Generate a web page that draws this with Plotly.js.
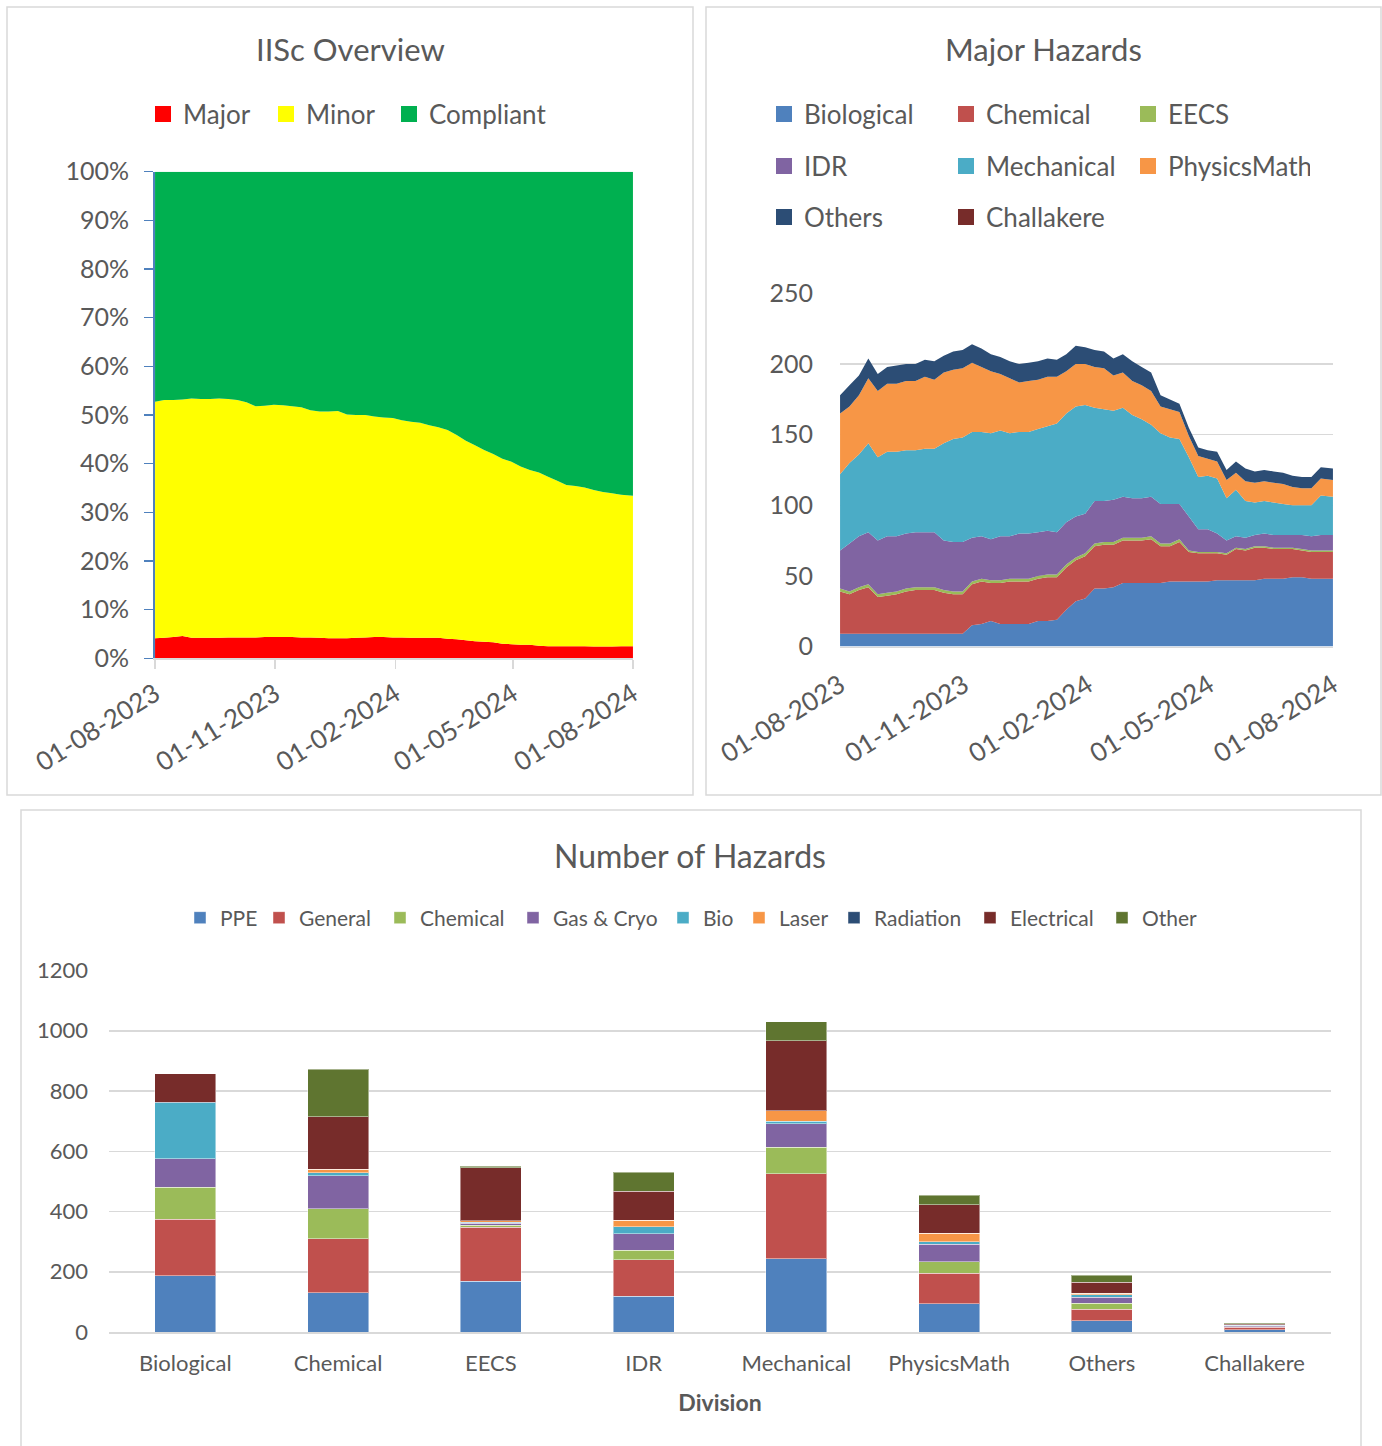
<!DOCTYPE html>
<html><head><meta charset="utf-8">
<script src="https://cdn.plot.ly/plotly-3.0.1.min.js"></script>
<style>html,body{margin:0;padding:0;background:#fff;} #chart{width:1382px;height:1446px;}</style>
</head><body><div id="chart"></div>
<script>
// ---------- DATA ----------
const weeks = ['2023-08-01','2023-08-08','2023-08-15','2023-08-22','2023-08-29','2023-09-05','2023-09-12','2023-09-19','2023-09-26',
'2023-10-03','2023-10-10','2023-10-17','2023-10-24','2023-10-31','2023-11-07','2023-11-14','2023-11-21','2023-11-28',
'2023-12-05','2023-12-12','2023-12-19','2023-12-26','2024-01-02','2024-01-09','2024-01-16','2024-01-23','2024-01-30',
'2024-02-06','2024-02-13','2024-02-20','2024-02-27','2024-03-05','2024-03-12','2024-03-19','2024-03-26',
'2024-04-02','2024-04-09','2024-04-16','2024-04-23','2024-04-30','2024-05-07','2024-05-14','2024-05-21','2024-05-28',
'2024-06-04','2024-06-11','2024-06-18','2024-06-25','2024-07-02','2024-07-09','2024-07-16','2024-07-23','2024-08-01'];

// IISc Overview (percent)
const majorPct = [4.1,4.2,4.4,4.6,4.2,4.2,4.2,4.2,4.3,4.3,4.3,4.3,4.4,4.4,4.4,4.4,4.3,4.3,4.2,4.1,4.1,4.1,4.2,4.3,4.4,4.4,4.3,
4.3,4.2,4.2,4.2,4.2,4.0,3.9,3.7,3.5,3.4,3.3,3.0,2.9,2.8,2.8,2.6,2.5,2.5,2.5,2.5,2.5,2.4,2.4,2.4,2.5,2.5];
const minorPct = [48.6,48.9,48.7,48.6,49.2,49.1,49.1,49.2,49.0,48.8,48.3,47.5,47.5,47.7,47.6,47.4,47.3,46.7,46.5,46.6,46.7,46.0,45.8,45.7,45.3,45.1,45.1,
44.6,44.4,44.2,43.7,43.3,42.9,42.0,41.0,40.3,39.4,38.7,38.0,37.5,36.6,35.9,35.6,34.8,34.0,33.1,32.9,32.6,32.2,31.8,31.5,31.1,30.9];
const compliantPct = [47.3,46.9,46.9,46.8,46.6,46.7,46.7,46.6,46.7,46.9,47.4,48.2,48.1,47.9,48.0,48.2,48.4,49.0,49.3,49.3,49.2,49.9,50.0,50.0,50.3,50.5,50.6,
51.1,51.4,51.6,52.1,52.5,53.1,54.1,55.3,56.2,57.2,58.0,59.0,59.6,60.6,61.3,61.8,62.7,63.5,64.4,64.6,64.9,65.4,65.8,66.1,66.4,66.6];
const pctTicks = [0,10,20,30,40,50,60,70,80,90,100];
const pctTickText = ['0%','10%','20%','30%','40%','50%','60%','70%','80%','90%','100%'];

// Major Hazards (counts)
const majBiological = [9,9,9,9,9,9,9,9,9,9,9,9,9,9,15,16,18,16,16,16,16,18,18,19,26,32,34,41,41,42,45,45,45,45,45,46,46,46,46,46,47,47,47,47,47,48,48,48,49,49,48,48,48];
const majChemical = [30,28,31,33,26,27,28,30,31,31,31,29,28,28,29,30,27,29,30,30,30,30,31,30,30,29,30,30,31,30,30,30,30,31,26,25,28,21,20,20,19,18,22,21,23,22,21,21,20,19,19,19,19];
const majEECS = [2,2,2,2,2,2,2,2,2,2,2,2,2,2,2,2,2,2,2,2,2,2,2,2,2,2,2,2,2,2,2,2,2,2,2,2,2,1,1,1,1,1,1,1,1,1,1,1,1,1,1,1,1];
const majIDR = [27,34,36,37,38,40,39,39,39,39,39,35,35,35,31,30,29,31,30,32,32,31,31,30,30,29,28,30,29,30,29,28,28,28,28,28,25,24,16,16,13,9,8,8,8,9,9,9,9,10,10,11,11];
const majMechanical = [54,57,58,63,59,60,60,59,58,59,59,69,73,74,75,74,75,75,73,72,72,73,74,77,77,78,77,66,65,63,63,59,56,51,50,47,46,42,37,38,39,30,33,26,23,23,23,22,21,21,22,28,27];
const majPhysicsMath = [43,40,42,46,47,48,48,49,49,51,49,50,49,49,49,46,44,40,39,35,36,35,35,33,30,30,29,29,29,25,25,24,24,24,19,20,19,15,15,12,12,13,12,14,14,14,14,14,13,12,12,12,12];
const majOthers = [13,15,14,14,12,12,13,12,12,12,13,12,13,13,13,13,12,12,12,13,13,13,13,12,12,13,12,12,12,12,13,14,13,13,8,7,6,6,6,6,7,7,8,9,8,8,8,8,8,8,8,8,8];
const majChallakere = [0,0,0,0,0,0,0,0,0,0,0,0,0,0,0,0,0,0,0,0,0,0,0,0,0,0,0,0,0,0,0,0,0,0,0,0,0,0,0,0,0,0,0,0,0,0,0,0,0,0,0,0,0];

// Number of Hazards by division
const divisions = ['Biological','Chemical','EECS','IDR','Mechanical','PhysicsMath','Others','Challakere'];
const nhPPE        = [186,131,168,118,244, 94,37,7];
const nhGeneral    = [189,179,180,122,281,101,38,8];
const nhChemical   = [105, 99,  6, 31, 88, 38,21,3];
const nhGasCryo    = [ 95,109,  7, 55, 78, 59,20,2];
const nhBio        = [186, 10,  3, 23,  9,  7, 8,2];
const nhLaser      = [  0, 12,  6, 22, 35, 29, 4,1];
const nhRadiation  = [  2,  0,  0,  0,  0,  0, 0,1];
const nhElectrical = [ 95,174,176, 97,231, 94,37,4];
const nhOther      = [  0,158,  5, 62, 64, 32,23,2];

// ---------- FIGURE ----------
const W = 1382, H = 1446;
const px = v => v / W;
const py = v => 1 - v / H;
const TXT = '#595959';
const GRID = '#D9D9D9';

const traces = [];

// Left chart: stacked percent area
const ovSeries = [
  {name:'Major', y:majorPct, color:'#FF0000', lw:78},
  {name:'Minor', y:minorPct, color:'#FFFF00', lw:78},
  {name:'Compliant', y:compliantPct, color:'#00B050', lw:130}
];
ovSeries.forEach(s => {
  traces.push({type:'scatter', x:weeks, y:s.y, name:s.name, stackgroup:'ov', mode:'none',
    fillcolor:s.color, xaxis:'x', yaxis:'y', showlegend:false, hoverinfo:'skip'});
});
ovSeries.forEach(s => {
  traces.push({type:'scatter', x:[null], y:[null], name:s.name, mode:'markers',
    marker:{symbol:'square', size:16, color:s.color}, xaxis:'x', yaxis:'y',
    legend:'legend', legendwidth:s.lw, hoverinfo:'skip'});
});

// Right chart: stacked area
const mhSeries = [
  {name:'Biological', y:majBiological, color:'#4F81BD', lg:'legend2'},
  {name:'Chemical', y:majChemical, color:'#C0504D', lg:'legend2'},
  {name:'EECS', y:majEECS, color:'#9BBB59', lg:'legend2'},
  {name:'IDR', y:majIDR, color:'#8064A2', lg:'legend3'},
  {name:'Mechanical', y:majMechanical, color:'#4BACC6', lg:'legend3'},
  {name:'PhysicsMath', y:majPhysicsMath, color:'#F79646', lg:'legend3'},
  {name:'Others', y:majOthers, color:'#2C4D75', lg:'legend4'},
  {name:'Challakere', y:majChallakere, color:'#772C2A', lg:'legend4'}
];
mhSeries.forEach(s => {
  traces.push({type:'scatter', x:weeks, y:s.y, name:s.name, stackgroup:'mh', mode:'none',
    fillcolor:s.color, xaxis:'x2', yaxis:'y2', showlegend:false, hoverinfo:'skip'});
});
mhSeries.forEach(s => {
  traces.push({type:'scatter', x:[null], y:[null], name:s.name, mode:'markers',
    marker:{symbol:'square', size:16, color:s.color}, xaxis:'x2', yaxis:'y2',
    legend:s.lg, legendwidth:137, hoverinfo:'skip'});
});

// Bottom chart: stacked bars
const nhSeries = [
  {name:'PPE', y:nhPPE, color:'#4F81BD', lw:34},
  {name:'General', y:nhGeneral, color:'#C0504D', lw:76},
  {name:'Chemical', y:nhChemical, color:'#9BBB59', lw:88},
  {name:'Gas &amp; Cryo', y:nhGasCryo, color:'#8064A2', lw:105},
  {name:'Bio', y:nhBio, color:'#4BACC6', lw:31},
  {name:'Laser', y:nhLaser, color:'#F79646', lw:50},
  {name:'Radiation', y:nhRadiation, color:'#2C4D75', lw:91},
  {name:'Electrical', y:nhElectrical, color:'#772C2A', lw:87},
  {name:'Other', y:nhOther, color:'#5F7530', lw:70}
];
nhSeries.forEach(s => {
  traces.push({type:'bar', x:divisions, y:s.y, name:s.name, xaxis:'x3', yaxis:'y3',
    marker:{color:s.color, line:{color:'rgba(255,255,255,0.45)', width:1}},
    legend:'legend5', legendwidth:s.lw, hoverinfo:'skip'});
});

const dateTicks = ['2023-08-01','2023-11-01','2024-02-01','2024-05-01','2024-08-01'];
const dateRange = ['2023-07-31 23:00','2024-08-01 01:00'];

function hLegend(x, y, size) {
  return {orientation:'h', x:px(x), y:py(y), xanchor:'left', yanchor:'middle',
    font:{size:size, color:TXT}, bgcolor:'rgba(0,0,0,0)', borderwidth:0,
    traceorder:'normal', itemclick:false, itemdoubleclick:false};
}

const layout = {
  width:W, height:H,
  margin:{l:0, r:0, t:0, b:0},
  paper_bgcolor:'#ffffff', plot_bgcolor:'rgba(0,0,0,0)',
  font:{family:'Lato, "Open Sans", sans-serif', color:TXT, size:20},
  showlegend:true,
  barmode:'stack', bargap:0.6,
  xaxis:{domain:[px(155), px(633)], anchor:'y', type:'date', range:dateRange,
    tickmode:'array', tickvals:dateTicks, tickformat:'%d-%m-%Y', tickangle:-32,
    ticks:'outside', ticklen:9, tickcolor:GRID, tickwidth:1.5,
    showline:true, linecolor:GRID, linewidth:1.5, showgrid:false, zeroline:false,
    tickfont:{size:26, color:TXT}, fixedrange:true},
  yaxis:{domain:[py(658.3), py(171.7)], anchor:'x', range:[0,100],
    tickmode:'array', tickvals:pctTicks, ticktext:pctTickText,
    ticks:'outside', ticklen:9, tickcolor:'#4F81BD', tickwidth:1.5,
    showline:true, linecolor:'#4F81BD', linewidth:2, showgrid:false, zeroline:false,
    tickfont:{size:25, color:TXT}, ticklabelstandoff:10, fixedrange:true},
  xaxis2:{domain:[px(840), px(1333)], anchor:'y2', type:'date', range:dateRange,
    tickmode:'array', tickvals:dateTicks, tickformat:'%d-%m-%Y', tickangle:-32,
    ticks:'', showline:true, linecolor:GRID, linewidth:1.5, showgrid:false, zeroline:false,
    tickfont:{size:26, color:TXT}, ticklabelstandoff:12, fixedrange:true},
  yaxis2:{domain:[py(646.5), py(293.5)], anchor:'x2', range:[0,250],
    tickmode:'array', tickvals:[0,50,100,150,200,250],
    showgrid:true, gridcolor:GRID, gridwidth:1.5, showline:false, zeroline:false, ticks:'',
    tickfont:{size:25, color:TXT}, ticklabelstandoff:26, fixedrange:true},
  xaxis3:{domain:[px(109), px(1331)], anchor:'y3', type:'category',
    showline:true, linecolor:GRID, linewidth:1.5, ticks:'', showgrid:false,
    tickfont:{size:22, color:TXT}, ticklabelstandoff:11,
    title:{text:'<b>Division</b>', font:{size:23, color:TXT}, standoff:20}, fixedrange:true},
  yaxis3:{domain:[py(1332), py(970.5)], anchor:'x3', range:[0,1200],
    tickmode:'array', tickvals:[0,200,400,600,800,1000,1200],
    showgrid:true, gridcolor:GRID, gridwidth:1.5, showline:false, zeroline:false, ticks:'',
    tickfont:{size:22, color:TXT}, ticklabelstandoff:20, fixedrange:true},
  legend: hLegend(143, 114, 26),
  legend2: hLegend(764, 114, 26),
  legend3: hLegend(764, 166, 26),
  legend4: hLegend(764, 217, 26),
  legend5: hLegend(180, 918, 21),
  annotations:[
    {text:'IISc Overview', xref:'paper', yref:'paper', x:px(350), y:py(49), xanchor:'center', yanchor:'middle',
      showarrow:false, font:{size:31, color:TXT}},
    {text:'Major Hazards', xref:'paper', yref:'paper', x:px(1043), y:py(49), xanchor:'center', yanchor:'middle',
      showarrow:false, font:{size:31, color:TXT}},
    {text:'Number of Hazards', xref:'paper', yref:'paper', x:px(690), y:py(855), xanchor:'center', yanchor:'middle',
      showarrow:false, font:{size:32, color:TXT}}
  ],
  shapes:[
    {type:'rect', xref:'paper', yref:'paper', x0:px(7), x1:px(693), y0:py(795), y1:py(7),
      line:{color:GRID, width:1.5}, fillcolor:'rgba(0,0,0,0)', layer:'below'},
    {type:'rect', xref:'paper', yref:'paper', x0:px(706), x1:px(1381), y0:py(795), y1:py(7),
      line:{color:GRID, width:1.5}, fillcolor:'rgba(0,0,0,0)', layer:'below'},
    {type:'rect', xref:'paper', yref:'paper', x0:px(21), x1:px(1361), y0:py(1460), y1:py(810),
      line:{color:GRID, width:1.5}, fillcolor:'rgba(0,0,0,0)', layer:'below'}
  ]
};

Plotly.newPlot('chart', traces, layout, {staticPlot:true, displayModeBar:false});
</script>
</body></html>
